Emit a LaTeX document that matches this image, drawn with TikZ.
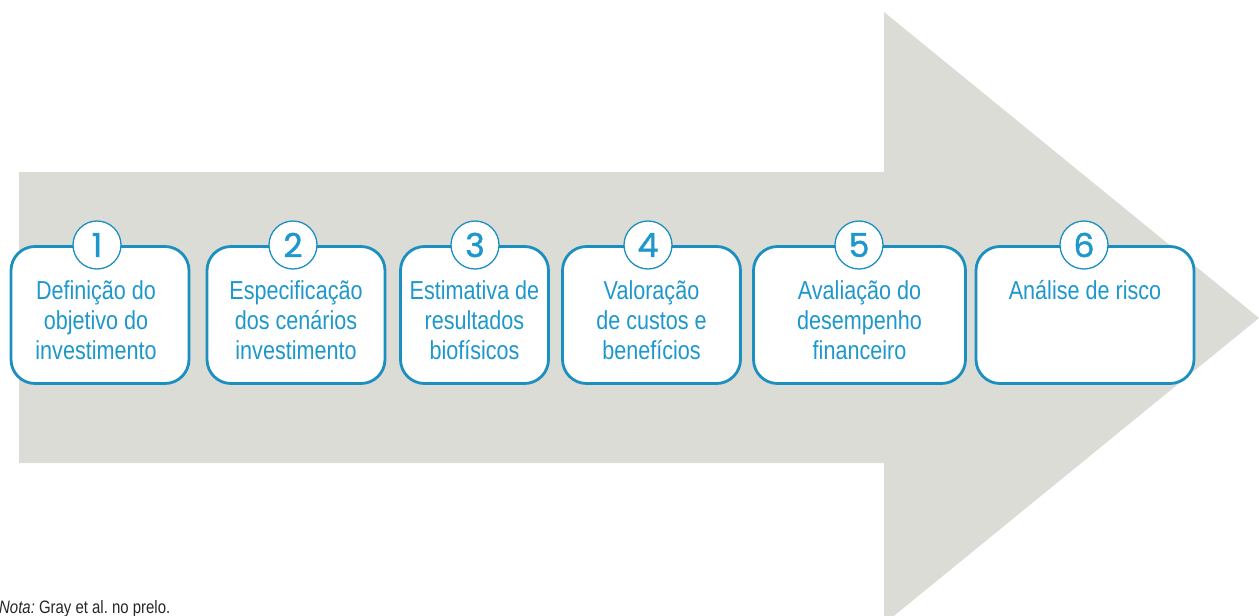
\documentclass[tikz,border=0pt]{standalone}
\usepackage{fontspec}
\setmainfont{Liberation Sans}[FakeStretch=0.83]
\newfontfamily\numfont{Poppins}[FakeBold=1.3]
\definecolor{arrowgray}{HTML}{DCDCD6}
\definecolor{boxblue}{HTML}{1B8FC0}
\definecolor{txtblue}{HTML}{1E98CC}
\tikzset{
  stepbox/.style={draw=boxblue, line width=2.8pt, fill=white, rounded corners=24pt, minimum height=137pt, inner sep=0pt},
  steptext/.style={anchor=north, align=center, text=txtblue, inner sep=0pt, font=\fontsize{26}{30}\selectfont},
  numcircle/.style={circle, draw=boxblue, line width=1.3pt, fill=white, minimum size=48pt, inner sep=0pt, text=txtblue, font=\numfont\fontsize{33}{33}\selectfont},
  notetext/.style={anchor=base west, inner sep=0pt, font=\frenchspacing\fontsize{18}{20}\selectfont, text=black!85}
}
\begin{document}
\begin{tikzpicture}[x=1pt,y=-1pt]
\useasboundingbox (0,0) rectangle (1259,616);
% big arrow
\fill[arrowgray] (19,172) -- (884,172) -- (884,12) -- (1259,318) -- (884,624) -- (884,463) -- (19,463) -- cycle;
% boxes
\node[stepbox, minimum width=178pt] (b1) at (100,315) {};
\node[stepbox, minimum width=178pt] (b2) at (296,315) {};
\node[stepbox, minimum width=148pt] (b3) at (474.5,315) {};
\node[stepbox, minimum width=178pt] (b4) at (651.5,315) {};
\node[stepbox, minimum width=212pt] (b5) at (859.5,315) {};
\node[stepbox, minimum width=218pt] (b6) at (1085,315) {};
% texts
\node[steptext] (t1) at ([xshift=-4pt,yshift=-33pt]b1.north) {\strut Definição do\\objetivo do\\investimento};
\node[steptext] (t2) at ([yshift=-33pt]b2.north) {\strut Especificação\\dos cenários\\investimento};
\node[steptext] (t3) at ([yshift=-33pt]b3.north) {\strut Estimativa de\\resultados\\biofísicos};
\node[steptext] (t4) at ([yshift=-33pt]b4.north) {\strut Valoração\\de custos e\\benefícios};
\node[steptext] (t5) at ([yshift=-33pt]b5.north) {\strut Avaliação do\\desempenho\\financeiro};
\node[steptext] (t6) at ([yshift=-33pt]b6.north) {\strut Análise de risco};
% number circles
\node[numcircle] (c1) at (97,245) {1};
\node[numcircle] (c2) at (293,245) {2};
\node[numcircle] (c3) at (475,245) {3};
\node[numcircle] (c4) at (648,245) {4};
\node[numcircle] (c5) at (859,245) {5};
\node[numcircle] (c6) at (1084,245) {6};
% note
\node[notetext] (nota) at (-1,613) {\textit{Nota:} Gray et al. no prelo.};
\end{tikzpicture}
\end{document}
